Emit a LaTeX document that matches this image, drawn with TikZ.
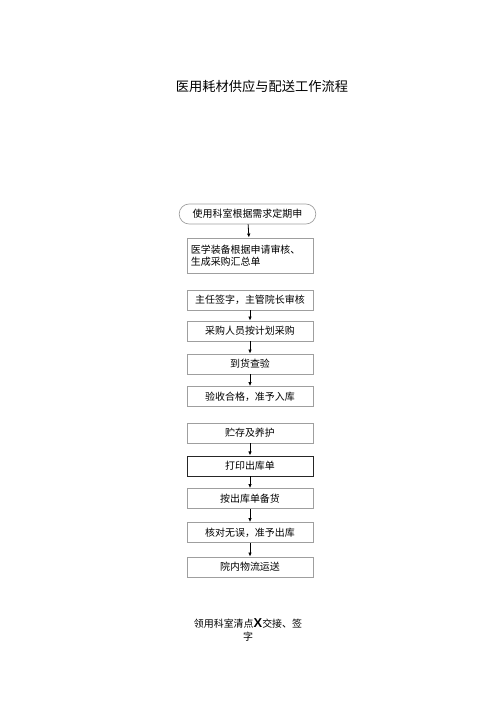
\documentclass[tikz,border=0pt]{standalone}
\usepackage{fontspec}
\newfontfamily\cjk{Noto Sans CJK SC}
\newfontfamily\latsans{Liberation Sans}
\usepackage{tikz}
\usetikzlibrary{shapes, shapes.misc, arrows.meta, positioning}

\begin{document}
\begin{tikzpicture}[x=0.03cm, y=-0.03cm,
            box/.style={draw=gray!75, line width=0.6pt, rectangle, minimum width=3.78cm, minimum height=0.6cm, inner sep=1pt, align=center, font=\cjk\fontsize{8.5}{10.5}\selectfont},
            startbox/.style={draw=gray!75, line width=0.6pt, rounded rectangle, minimum width=4.17cm, minimum height=0.6cm, inner sep=1pt, font=\cjk\fontsize{8.5}{10}\selectfont},
            flow/.style={-{Latex[length=3.5pt, width=3pt]}, line width=0.7pt}]
            \useasboundingbox (0,0) rectangle (500,707);

            \node[font=\cjk\fontsize{11.3}{13}\selectfont] (title) at (262,86) {医用耗材供应与配送工作流程};

            \node[startbox] (apply) at (247.5,214) {使用科室根据需求定期申};
            \node[box, minimum height=1.05cm, align=left, text width=3.55cm] (summary) at (250,255.5) {医学装备根据申请审核、\\生成采购汇总单};
            \node[box] (sign) at (250,300) {主任签字，主管院长审核};
            \node[box] (purchase) at (250,331) {采购人员按计划采购};
            \node[box] (arrive) at (250,364) {到货查验};
            \node[box] (accept) at (250,396.5) {验收合格，准予入库};
            \node[box] (store) at (250,433) {贮存及养护};
            \node[box, draw=black!85, line width=0.8pt] (print) at (250,466) {打印出库单};
            \node[box] (prepare) at (250,498.5) {按出库单备货};
            \node[box] (check) at (250,532.5) {核对无误，准予出库};
            \node[box] (deliver) at (250,567) {院内物流运送};

            \node[align=center, font=\cjk\fontsize{8.5}{10.5}\selectfont] (receive) at (248,630) {领用科室清点{\latsans\bfseries\fontsize{11}{10.5}\selectfont X}交接、签\\字};

            \draw[flow] (apply) -- (summary);
            \draw[flow] (sign) -- (purchase);
            \draw[flow] (purchase) -- (arrive);
            \draw[flow] (arrive) -- (accept);
            \draw[flow] (store) -- (print);
            \draw[flow] (print) -- (prepare);
            \draw[flow] (prepare) -- (check);
            \draw[flow] (check) -- (deliver);
        \end{tikzpicture}
\end{document}
